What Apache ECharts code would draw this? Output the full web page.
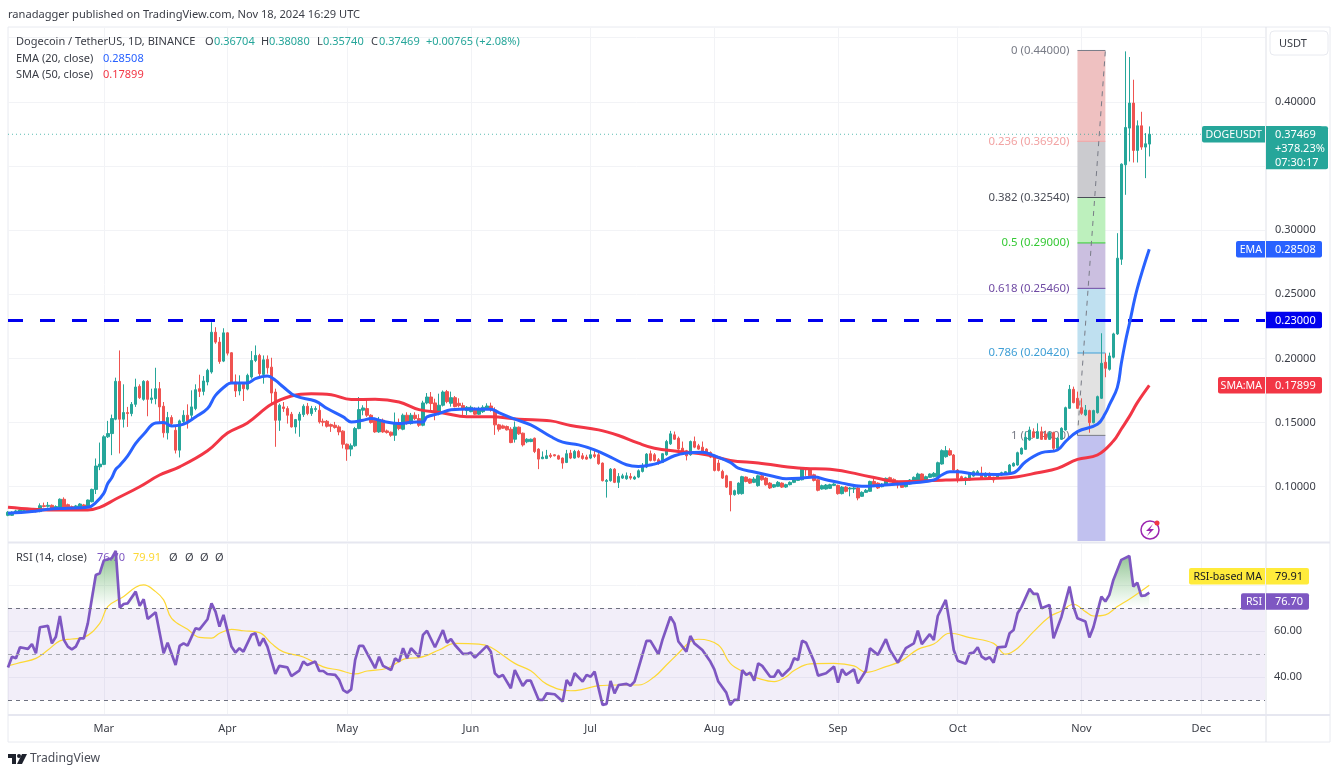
<!DOCTYPE html>
<html>
<head>
<meta charset="utf-8">
<style>
  html, body { margin: 0; padding: 0; background: #fff; }
  #chart { width: 1340px; height: 774px; }
</style>
</head>
<body>
<div id="chart"></div>
<script src="https://cdn.jsdelivr.net/npm/echarts@6/dist/echarts.min.js"></script>
<script>
// daily candles from 6 Feb 2024: open, close, low, high
const ohlc = [
  [.0777,.0801,.0770,.0810],[.0777,.0801,.0772,.0808],[.0793,.0811,.0788,.0820],[.0801,.0819,.0795,.0826],
  [.0804,.0814,.0798,.0822],[.0819,.0806,.0800,.0826],[.0806,.0824,.0802,.0830],[.0819,.0806,.0800,.0828],
  [.0806,.0852,.0801,.0870],[.0852,.0845,.0839,.0876],[.0847,.0855,.0837,.0881],[.0855,.0819,.0815,.0862],
  [.0824,.0845,.0818,.0855],[.0840,.0902,.0832,.0909],[.0902,.0837,.0829,.0917],[.0860,.0824,.0818,.0868],
  [.0845,.0824,.0818,.0853],[.0832,.0850,.0826,.0858],[.0834,.0865,.0830,.0872],[.0858,.0845,.0838,.0866],
  [.0850,.0896,.0845,.0900],[.0883,.0979,.0878,.0985],[.0979,.1161,.0943,.1220],[.1155,.1176,.1129,.1344],
  // March
  [.1174,.1389,.1168,.1401],[.1389,.1414,.1380,.1513],[.1414,.1531,.1246,.1562],[.1526,.1821,.1518,.1850],
  [.1821,.1526,.1259,.2062],[.1526,.1578,.1461,.1798],[.1578,.1570,.1466,.1622],[.1570,.1642,.1549,.1660],
  [.1642,.1777,.1622,.1842],[.1782,.1694,.1684,.1798],[.1681,.1821,.1670,.1830],[.1821,.1681,.1549,.1830],
  [.1679,.1692,.1648,.1764],[.1686,.1764,.1642,.1927],[.1764,.1622,.1505,.1816],[.1627,.1420,.1383,.1660],
  [.1420,.1539,.1368,.1583],[.1539,.1492,.1466,.1557],[.1440,.1285,.1259,.1466],[.1285,.1513,.1228,.1523],
  [.1508,.1557,.1487,.1596],[.1557,.1513,.1453,.1642],[.1557,.1622,.1531,.1751],[.1609,.1756,.1596,.1798],
  [.1764,.1743,.1699,.1873],[.1743,.1824,.1712,.1862],[.1816,.1907,.1790,.1919],[.1894,.2204,.1881,.2282],
  [.2204,.2127,.2114,.2243],[.2127,.1976,.1958,.2166],[.1979,.2199,.1971,.2235],
  // April
  [.2199,.2041,.2023,.2204],[.2044,.1816,.1803,.2049],[.1816,.1746,.1699,.1875],[.1746,.1798,.1712,.1868],
  [.1798,.1764,.1668,.1816],[.1761,.1868,.1751,.1881],[.1855,.1984,.1842,.2057],[.1984,.2023,.1971,.2101],
  [.2023,.1881,.1855,.2036],[.1875,.1989,.1803,.2023],[.1992,.1927,.1881,.2023],[.1932,.1730,.1648,.2005],
  [.1738,.1518,.1311,.1764],[.1518,.1635,.1435,.1648],[.1622,.1609,.1583,.1660],[.1609,.1557,.1492,.1627],
  [.1565,.1466,.1461,.1583],[.1466,.1523,.1414,.1528],[.1518,.1565,.1389,.1583],[.1562,.1627,.1544,.1642],
  [.1627,.1570,.1557,.1653],[.1570,.1609,.1552,.1630],[.1601,.1609,.1583,.1627],[.1596,.1505,.1492,.1642],
  [.1510,.1502,.1471,.1531],[.1510,.1471,.1461,.1520],[.1484,.1471,.1427,.1492],[.1479,.1461,.1453,.1505],
  [.1466,.1427,.1401,.1479],[.1433,.1331,.1298,.1440],
  // May
  [.1331,.1293,.1202,.1337],[.1293,.1319,.1238,.1337],[.1319,.1453,.1311,.1466],[.1453,.1601,.1448,.1699],
  [.1596,.1614,.1557,.1635],[.1609,.1557,.1544,.1686],[.1557,.1500,.1492,.1565],[.1518,.1427,.1420,.1531],
  [.1427,.1523,.1420,.1544],[.1518,.1427,.1420,.1531],[.1435,.1422,.1414,.1445],[.1425,.1401,.1389,.1430],
  [.1401,.1487,.1357,.1578],[.1497,.1453,.1440,.1531],[.1448,.1557,.1440,.1570],[.1557,.1492,.1484,.1580],
  [.1492,.1557,.1484,.1575],[.1557,.1531,.1520,.1580],[.1531,.1479,.1466,.1565],[.1479,.1653,.1471,.1670],
  [.1653,.1699,.1642,.1730],[.1699,.1648,.1590,.1738],[.1653,.1590,.1518,.1686],[.1570,.1635,.1557,.1725],
  [.1635,.1738,.1625,.1750],[.1741,.1663,.1650,.1754],[.1650,.1694,.1624,.1741],[.1694,.1624,.1619,.1707],
  [.1650,.1632,.1619,.1689],[.1632,.1611,.1559,.1655],[.1593,.1619,.1559,.1629],
  // June
  [.1585,.1619,.1580,.1632],[.1603,.1565,.1559,.1619],[.1565,.1603,.1559,.1624],[.1585,.1619,.1575,.1635],
  [.1603,.1629,.1598,.1650],[.1629,.1598,.1585,.1655],[.1598,.1482,.1404,.1619],[.1482,.1448,.1430,.1490],
  [.1474,.1456,.1450,.1484],[.1469,.1443,.1438,.1477],[.1448,.1344,.1339,.1464],[.1370,.1464,.1344,.1508],
  [.1464,.1412,.1404,.1469],[.1417,.1326,.1313,.1422],[.1350,.1370,.1339,.1378],[.1352,.1370,.1347,.1375],
  [.1378,.1274,.1262,.1383],[.1293,.1215,.1137,.1300],[.1218,.1231,.1215,.1275],[.1220,.1241,.1215,.1287],
  [.1246,.1236,.1223,.1262],[.1249,.1241,.1236,.1254],[.1241,.1215,.1210,.1249],[.1223,.1184,.1140,.1228],
  [.1189,.1257,.1184,.1287],[.1262,.1223,.1215,.1287],[.1223,.1275,.1218,.1287],[.1275,.1231,.1223,.1287],
  [.1241,.1220,.1210,.1262],[.1231,.1215,.1210,.1249],
  // July
  [.1223,.1249,.1215,.1287],[.1249,.1236,.1223,.1287],[.1249,.1179,.1171,.1262],[.1184,.1047,.1041,.1189],
  [.1041,.1049,.0915,.1060],[.1047,.1137,.1039,.1145],[.1137,.1034,.1028,.1145],[.1034,.1080,.0990,.1106],
  [.1067,.1085,.1060,.1101],[.1062,.1085,.1054,.1111],[.1080,.1067,.1054,.1106],[.1060,.1075,.1054,.1085],
  [.1075,.1124,.1067,.1135],[.1119,.1153,.1111,.1184],[.1153,.1254,.1145,.1262],[.1257,.1205,.1197,.1282],
  [.1249,.1205,.1197,.1262],[.1210,.1184,.1171,.1223],[.1189,.1257,.1184,.1262],[.1249,.1352,.1241,.1365],
  [.1334,.1412,.1326,.1435],[.1404,.1370,.1365,.1430],[.1378,.1293,.1287,.1391],[.1300,.1267,.1262,.1352],
  [.1280,.1241,.1205,.1287],[.1249,.1352,.1241,.1360],[.1352,.1308,.1300,.1391],[.1319,.1293,.1287,.1334],
  [.1308,.1275,.1267,.1352],[.1293,.1257,.1249,.1300],[.1267,.1231,.1223,.1275],
  // August
  [.1236,.1127,.1119,.1249],[.1184,.1127,.1119,.1210],[.1119,.1067,.1060,.1132],[.1085,.0997,.0990,.1093],
  [.1041,.0938,.0808,.1041],[.0938,.0969,.0930,.0977],[.0946,.1028,.0938,.1034],[.0946,.1078,.0938,.1085],
  [.1075,.1041,.1034,.1080],[.1060,.1028,.1021,.1065],[.1034,.1060,.1028,.1075],[.1008,.1085,.1000,.1093],
  [.1085,.1054,.1047,.1101],[.1067,.1016,.1008,.1075],[.1028,.0990,.0982,.1036],[.0997,.1016,.0990,.1021],
  [.1003,.1034,.0997,.1044],[.1028,.0997,.0990,.1034],[.0997,.1016,.0990,.1023],[.1016,.1034,.1010,.1041],
  [.1034,.1054,.1028,.1060],[.1049,.1067,.1044,.1075],[.1054,.1145,.1049,.1153],[.1145,.1132,.1085,.1153],
  [.1137,.1085,.1080,.1145],[.1093,.1049,.1041,.1101],[.1054,.0972,.0964,.1062],[.0982,.1008,.0977,.1016],
  [.0982,.1013,.0977,.1021],[.0987,.1016,.0982,.1023],[.1010,.1021,.1005,.1028],
  // September
  [.1010,.0946,.0938,.1016],[.0946,.0997,.0940,.1005],[.0997,.0964,.0956,.1005],[.0982,.0990,.0925,.0997],
  [.0982,.0990,.0951,.1003],[.0990,.0912,.0894,.0997],[.0925,.0956,.0920,.0964],[.0956,.0972,.0951,.0982],
  [.0964,.1041,.0960,.1047],[.1041,.1016,.1008,.1060],[.1028,.0990,.0982,.1034],[.1000,.1021,.0995,.1028],
  [.1021,.1065,.1016,.1072],[.1070,.1052,.1044,.1078],[.1057,.1031,.1026,.1065],[.1039,.1013,.0987,.1047],
  [.1026,.0995,.0990,.1031],[.1000,.1026,.0995,.1034],[.1021,.1052,.1016,.1060],[.1047,.1073,.1042,.1080],
  [.1047,.1099,.1042,.1109],[.1099,.1052,.1047,.1104],[.1052,.1078,.1047,.1086],[.1073,.1099,.1068,.1104],
  [.1078,.1104,.1073,.1114],[.1078,.1187,.1073,.1195],[.1177,.1281,.1172,.1291],[.1234,.1281,.1226,.1317],
  [.1281,.1247,.1240,.1299],[.1247,.1130,.1125,.1255],
  // October
  [.1130,.1065,.1031,.1138],[.1078,.1052,.1044,.1086],[.1052,.1070,.1013,.1078],[.1052,.1104,.1047,.1112],
  [.1083,.1117,.1078,.1125],[.1104,.1117,.1099,.1130],[.1104,.1065,.1060,.1156],[.1078,.1104,.1073,.1112],
  [.1104,.1065,.1060,.1112],[.1073,.1052,.1031,.1078],[.1065,.1099,.1060,.1104],[.1091,.1109,.1086,.1117],
  [.1099,.1117,.1094,.1122],[.1099,.1169,.1094,.1177],[.1161,.1182,.1156,.1190],[.1169,.1265,.1164,.1273],
  [.1255,.1299,.1250,.1307],[.1291,.1385,.1286,.1429],[.1364,.1442,.1359,.1468],[.1429,.1385,.1380,.1455],
  [.1377,.1429,.1372,.1494],[.1429,.1369,.1364,.1468],[.1411,.1369,.1364,.1437],[.1369,.1421,.1364,.1432],
  [.1421,.1299,.1273,.1429],[.1299,.1377,.1294,.1385],[.1369,.1455,.1364,.1463],[.1442,.1616,.1437,.1624],
  [.1611,.1759,.1606,.1793],[.1759,.1655,.1650,.1780],[.1689,.1611,.1606,.1741],
  // November
  [.1616,.1572,.1560,.1689],[.1559,.1598,.1550,.1637],[.1593,.1499,.1421,.1600],[.1499,.1593,.1494,.1600],
  [.1577,.1702,.1570,.1710],[.1689,.1962,.1684,.2196],[.1970,.1923,.1853,.2040],[.1915,.2019,.1905,.2045],
  [.2009,.2191,.2000,.2200],[.2191,.2781,.2183,.2976],[.2773,.3514,.2729,.3520],[.3509,.3800,.3275,.4393],
  [.3795,.3990,.3535,.4349],[.3990,.3621,.3527,.4172],[.3621,.3813,.3527,.3855],[.3813,.3647,.3626,.3922],
  [.3647,.3673,.3405,.3756],[.36704,.37469,.3574,.3808]
];

// indicator readings as [days from 1 Mar, value]
const ema20 = [[-24,.0793],[-18,.0806],[-14,.0824],[-9,.0832],[-4,.0839],[-2,.0876],[0,.0948],[1,.1025],[2,.107],[3,.1135],[4,.1166],[6,.1241],[8,.1337],[10,.1409],[13,.1497],[15,.15],[17,.1474],[20,.1487],[23,.1544],[26,.1609],[28,.1712],[31,.1798],[32,.1808],[36,.1808],[38,.1842],[41,.1862],[43,.1829],[45,.1777],[48,.1707],[53,.1668],[56,.1609],[60,.1544],[62,.1505],[65,.1518],[67,.1531],[70,.151],[74,.1492],[77,.1502],[80,.1505],[81,.1544],[84,.157],[87,.16],[92,.1606],[97,.1603],[99,.1578],[103,.1526],[107,.1482],[112,.1391],[115,.1347],[119,.1326],[123,.1287],[127,.1231],[131,.1171],[134,.1158],[138,.1176],[140,.1197],[143,.1241],[146,.1262],[150,.1269],[153,.1241],[157,.1189],[159,.1145],[163,.1114],[168,.108],[171,.1062],[175,.1067],[178,.1075],[181,.1054],[185,.1028],[190,.1003],[195,.1012],[199,.1021],[203,.1031],[208,.1052],[210,.1091],[212,.1117],[214,.1117],[218,.1099],[224,.1096],[228,.1109],[231,.1195],[235,.1265],[239,.1286],[241,.1351],[244,.1429],[249,.1486],[251,.1572],[252,.1637],[254,.1774],[255,.1962],[256,.2128],[257,.2268],[259,.2545],[262,.28508]];
const sma50 = [[-24,.0839],[-18,.0824],[-14,.0819],[-4,.0819],[-1,.0839],[3,.0904],[9,.1],[14,.1091],[19,.1155],[26,.128],[31,.1418],[36,.1497],[42,.1642],[47,.1707],[52,.1725],[57,.1717],[62,.1679],[68,.1681],[74,.166],[79,.1601],[85,.1575],[91,.1546],[97,.1546],[104,.1526],[112,.1513],[117,.1477],[124,.1443],[129,.1399],[134,.1339],[138,.13],[144,.1275],[151,.1249],[157,.1205],[164,.1184],[174,.1145],[183,.1132],[189,.1098],[197,.1045],[199,.1039],[211,.1052],[224,.1065],[229,.1078],[234,.1109],[239,.1143],[244,.1213],[249,.1247],[253,.1356],[255,.145],[257,.1546],[259,.1655],[262,.17899]];
const rsi14 = [[-24,44.1],[-23,48.8],[-22,48.1],[-21,52.9],[-19,52.2],[-18,54.3],[-17,50.3],[-16,61.6],[-14,62.2],[-13,54.6],[-12,57.5],[-11,66.5],[-10,56.1],[-9,53.2],[-8,52],[-7,53.2],[-6,56.8],[-5,56.8],[-4,63.3],[-2,84.3],[-1,85.1],[0,90.6],[2,91.6],[3,94.8],[4,70.1],[5,71.7],[6,72],[8,77.1],[9,70.9],[10,73.8],[11,65.2],[13,68.1],[15,50.3],[16,54.9],[18,45.2],[19,53.5],[20,54.6],[21,53.6],[23,61.2],[24,60.7],[26,65.1],[27,72],[28,68.4],[29,61.9],[30,67],[32,53.2],[33,50.6],[34,52.5],[35,51],[37,58.3],[38,59],[39,53.5],[40,56.8],[41,53.2],[43,41.3],[44,44.8],[46,44.2],[47,40.4],[49,42.8],[50,46.7],[51,45.2],[53,46.7],[54,42.6],[55,42.6],[56,41.3],[58,40.9],[59,38.7],[60,34.3],[61,33.2],[62,34.6],[63,47.4],[64,53.5],[65,53.5],[66,50.3],[68,43.8],[69,48.8],[70,44.8],[72,43],[73,48.1],[74,46.7],[75,52.5],[76,48.1],[77,52.5],[79,48.8],[80,58.3],[81,60.1],[83,52.9],[85,60.4],[86,54.9],[87,56.5],[88,53.9],[90,50],[91,50],[92,50.6],[93,48.4],[96,53.5],[97,51],[98,41.6],[99,39.9],[100,40.9],[102,35.1],[103,43],[105,36.1],[106,38.4],[107,38.4],[109,30],[110,30],[111,32.9],[113,32.5],[115,29.3],[116,38.7],[117,36.2],[118,41.6],[120,38],[121,40.9],[122,40.1],[123,42.3],[125,27.8],[126,28.3],[127,38.3],[128,32.9],[129,36.5],[131,37],[132,36.2],[133,38],[134,43.8],[136,55.7],[137,55.7],[139,49.9],[140,56.1],[142,66.2],[143,63.3],[144,55.4],[146,51],[147,57.8],[148,54.6],[150,51.7],[152,46.7],[153,43.3],[154,38],[156,33.2],[157,27.8],[158,30],[159,30],[160,43],[161,40.9],[162,41.9],[163,38.4],[164,45.9],[165,44.8],[167,40.1],[168,40.1],[169,43],[170,40.4],[172,43.8],[173,48.1],[174,47.4],[175,55.7],[176,54.9],[178,46.7],[179,40.6],[181,41.6],[183,44.5],[184,37.5],[185,43.3],[186,40.9],[188,43.3],[189,37.2],[191,42.8],[192,52.5],[194,49.6],[196,56.4],[197,51.7],[199,46.2],[201,52.5],[203,54.6],[204,60.1],[205,54.3],[207,58.6],[208,56.1],[209,66.5],[211,73.5],[212,63.3],[213,51.7],[214,47.1],[216,45.7],[217,50.3],[218,50.6],[219,52.9],[220,48.8],[221,47.7],[222,48.6],[223,46.2],[224,52.9],[226,53.2],[227,59],[228,60.4],[229,67.7],[230,70.6],[232,78.3],[233,76.1],[234,76.1],[235,69.9],[237,71.3],[238,56.8],[240,66.2],[242,79.3],[243,70.6],[244,65.5],[246,64.1],[247,57.2],[248,61.6],[250,74.9],[251,72.8],[252,75.7],[253,82.2],[255,90.9],[257,92.6],[258,79.3],[259,81],[260,75.2],[261,75.5],[262,76.7]];
const rsiMa = [[-24,44.8],[-21,46.2],[-17,48.1],[-14,51.7],[-11,55.7],[-8,56.5],[-5,57.2],[-1,63.3],[1,70.6],[5,75],[8,79],[10,80],[13,77.1],[15,73.5],[17,65.5],[21,60.7],[24,57.2],[27,56.9],[29,59],[32,60.7],[35,60.1],[39,59.3],[42,54.6],[45,50.9],[50,48.7],[55,44.4],[59,43],[63,41.3],[66,42.6],[71,43.8],[76,48.1],[79,48.4],[84,51.7],[88,54.6],[94,54.3],[97,52.9],[103,45.9],[107,42.7],[111,36.9],[117,34],[120,34.6],[124,36.2],[129,36.5],[134,36.5],[138,40.1],[141,45.2],[144,50.3],[147,55.4],[149,56.4],[154,53.9],[157,45.9],[161,41.6],[164,39.4],[168,38],[171,40.1],[173,42.8],[177,45.7],[183,45.9],[188,44.8],[191,42],[196,44.5],[200,47.1],[204,52],[208,54.3],[212,59],[217,57.1],[223,54.6],[226,49.9],[229,52.5],[233,59.7],[237,66.2],[240,68.7],[243,71.6],[246,68.4],[248,66.5],[251,67],[254,70.6],[257,73.8],[262,79.91]];

const fibRatios = ['0', '0.236', '0.382', '0.5', '0.618', '0.786', '1'];
const fibLevels = [.44, .3692, .3254, .29, .2546, .2042, .14];
const fibColors = ['#787b86', '#f2a3a3', '#4a4d57', '#35c935', '#6f4aa3', '#3f9fd6', '#787b86'];
const fibFills = ['#efc1c1', '#cbcbcf', '#bdf0bd', '#cbbfe0', '#bfe0f0', '#e2e2e2', '#c1c1ef'];
const fibDays = [244, 251];

const priceTicks = [.10, .15, .20, .25, .30, .35, .40, .45];
const priceLabels = [.10, .15, .20, .25, .30, .40];
const rsiTicks = [40, 60, 80];
const rsiLabels = [40, 60];
const rsiLevels = [70, 50, 30];
const supportLevel = .23;
const lastPrice = .37469;

const priceTagNames = ['DOGEUSDT', 'EMA', '', 'SMA:MA'];
const priceTagValues = [.37469, .28508, .23, .17899];
const priceTagColors = ['#26a69a', '#2962ff', '#0000ee', '#f23645'];
const rsiTagNames = ['RSI-based MA', 'RSI'];
const rsiTagValues = [79.91, 76.70];
const rsiTagColors = ['#ffeb3b', '#7e57c2'];

const monthNames = ['Jan','Feb','Mar','Apr','May','Jun','Jul','Aug','Sep','Oct','Nov','Dec'];

// one category per calendar day, 6 Feb to 17 Dec 2024
const dates = [];
for (let t = Date.UTC(2024, 1, 6); t <= Date.UTC(2024, 11, 17); t += 864e5) {
  dates.push(new Date(t).toISOString().slice(0, 10));
}
const dayIndex = d => d + 24;
const toPairs = rows => rows.map(r => [dayIndex(r[0]), r[1]]);
const isMonthStart = (i, v) => v.endsWith('-01');

const FONT = '"Noto Sans", sans-serif';
const PRICE_MIN = 0.05768, PRICE_MAX = 0.45752;
const lastIdx = ohlc.length - 1;

// green fill for the part of the RSI above 70
const rsiOver = rsi14.map((r, i) => {
  const near = [rsi14[i - 1], rsi14[i + 1]].some(n => n && n[1] >= 70);
  if (r[1] >= 70) return [dayIndex(r[0]), r[1]];
  return [dayIndex(r[0]), near ? 70 : '-'];
});

function fibItem(params, api) {
  const i = params.dataIndex;
  const top = api.coord([dayIndex(fibDays[0]), fibLevels[i]]);
  const right = api.coord([dayIndex(fibDays[1]), fibLevels[i]]);
  const next = i + 1 < fibLevels.length ? fibLevels[i + 1] : PRICE_MIN;
  const bottom = api.coord([dayIndex(fibDays[0]), next]);
  return {
    type: 'group',
    children: [
      { type: 'rect', shape: { x: top[0], y: top[1], width: right[0] - top[0], height: bottom[1] - top[1] },
        style: { fill: fibFills[i] } },
      { type: 'line', shape: { x1: top[0], y1: top[1], x2: right[0], y2: top[1] },
        style: { stroke: fibColors[i], lineWidth: 1 } },
      { type: 'text', style: { x: top[0] - 8, y: top[1], text: fibRatios[i] + ' (' + fibLevels[i].toFixed(5) + ')',
        fill: fibColors[i], font: '11.4px ' + FONT, align: 'right', verticalAlign: 'middle' } }
    ]
  };
}

function tagShapes(y, name, nameWidth, valueText, color, textColor, valueRight) {
  const h = 16.5, axisX = 1266, kids = [];
  if (name) {
    kids.push({ type: 'rect', shape: { x: axisX - nameWidth, y: y - h / 2, width: nameWidth - 1, height: h, r: [2, 0, 0, 2] }, style: { fill: color } });
    kids.push({ type: 'text', style: { x: axisX - 4, y: y + .5, text: name, fill: textColor, font: '10.6px ' + FONT, align: 'right', verticalAlign: 'middle' } });
  }
  kids.push({ type: 'rect', shape: { x: axisX, y: y - h / 2, width: valueRight - axisX, height: h, r: [0, 2, 2, 0] }, style: { fill: color } });
  kids.push({ type: 'text', style: { x: axisX + 9, y: y + .5, text: valueText, fill: textColor, font: '11px ' + FONT, verticalAlign: 'middle' } });
  return kids;
}

function priceTagItem(params, api) {
  const i = params.dataIndex;
  const y = api.coord([lastIdx, priceTagValues[i]])[1];
  const widths = [64, 30, 0, 48];
  const kids = tagShapes(y, priceTagNames[i], widths[i], priceTagValues[i].toFixed(5), priceTagColors[i], '#fff', 1322);
  if (i === 0) {
    kids.push({ type: 'rect', shape: { x: 1266, y: y - 8, width: 62, height: 43, r: [0, 2, 2, 0] }, style: { fill: priceTagColors[0] } });
    ['0.37469', '+378.23%', '07:30:17'].forEach((s, k) => {
      kids.push({ type: 'text', style: { x: 1275, y: y + .5 + k * 14, text: s, fill: '#fff', font: '11px ' + FONT, verticalAlign: 'middle' } });
    });
  }
  return { type: 'group', children: kids };
}

function rsiTagItem(params, api) {
  const i = params.dataIndex;
  const y = api.coord([lastIdx, rsiTagValues[i]])[1] + (i === 0 ? -9 : 9);
  const widths = [77, 25];
  return { type: 'group', children: tagShapes(y, rsiTagNames[i], widths[i], rsiTagValues[i].toFixed(2), rsiTagColors[i], i === 0 ? '#131722' : '#fff', 1309) };
}

function txt(x, y, text, fill, size) {
  return { type: 'text', x: x, y: y + 1, silent: true, z: 20,
    style: { text: text, fill: fill || '#3a3d46', font: (size || 11) + 'px ' + FONT, verticalAlign: 'middle' } };
}

const UP = '#26a69a', DOWN = '#ef5350', GRID = '#f2f3f6';

const chart = echarts.init(document.getElementById('chart'), null, { renderer: 'canvas' });
chart.setOption({
  animation: false,
  backgroundColor: '#fff',
  grid: [
    { left: 8, right: 75, top: 28, height: 513 },
    { left: 8, right: 75, top: 544, height: 170 }
  ],
  xAxis: [0, 1].map(g => ({
    type: 'category', gridIndex: g, data: dates, boundaryGap: false,
    axisLine: { show: false }, axisTick: { show: false },
    splitLine: { show: true, interval: isMonthStart, lineStyle: { color: GRID, width: 1 } },
    axisLabel: g === 0 ? { show: false } : {
      show: true, interval: isMonthStart, margin: 9, color: '#3a3d46', fontSize: 11, fontFamily: FONT,
      formatter: v => monthNames[+v.slice(5, 7) - 1]
    }
  })),
  yAxis: [
    { type: 'value', gridIndex: 0, position: 'right', min: PRICE_MIN, max: PRICE_MAX, scale: true,
      axisLine: { show: false },
      axisTick: { show: false, customValues: priceTicks },
      splitLine: { show: true, lineStyle: { color: GRID, width: 1 } },
      axisLabel: { customValues: priceLabels, margin: 10, color: '#3a3d46', fontSize: 11, fontFamily: FONT, formatter: v => v.toFixed(5) } },
    { type: 'value', gridIndex: 1, position: 'right', min: 23.9, max: 97.8, scale: true,
      axisLine: { show: false },
      axisTick: { show: false, customValues: rsiTicks },
      splitLine: { show: true, lineStyle: { color: GRID, width: 1 } },
      axisLabel: { customValues: rsiLabels, margin: 9, color: '#3a3d46', fontSize: 11, fontFamily: FONT, formatter: v => v.toFixed(2) } }
  ],
  series: [
    { name: 'fib', type: 'custom', xAxisIndex: 0, yAxisIndex: 0, z: 1, silent: true,
      data: fibLevels.map(v => [dayIndex(fibDays[0]), v]), encode: { x: 0, y: 1 }, renderItem: fibItem },
    { name: 'fib trend', type: 'line', xAxisIndex: 0, yAxisIndex: 0, z: 2, symbol: 'none', silent: true,
      data: [[dayIndex(fibDays[0]), fibLevels[6]], [dayIndex(fibDays[1]), fibLevels[0]]],
      lineStyle: { color: '#787b86', width: 1, type: [5, 5] } },
    { name: 'last price', type: 'line', xAxisIndex: 0, yAxisIndex: 0, z: 2, symbol: 'none', silent: true,
      data: [[0, lastPrice], [dates.length - 1, lastPrice]],
      lineStyle: { color: UP, width: 1, type: [1, 3], opacity: .75 } },
    { name: 'DOGEUSDT', type: 'candlestick', xAxisIndex: 0, yAxisIndex: 0, z: 3, barWidth: 3, silent: true,
      data: ohlc,
      itemStyle: { color: UP, color0: DOWN, borderColor: UP, borderColor0: DOWN, borderWidth: 1 },
      markLine: { symbol: 'none', silent: true, label: { show: false }, animation: false,
        data: [{ yAxis: supportLevel, lineStyle: { color: '#0000ee', width: 3, type: [15, 17] } }] } },
    { name: 'SMA 50', type: 'line', xAxisIndex: 0, yAxisIndex: 0, z: 4, symbol: 'none', smooth: .4, silent: true,
      data: toPairs(sma50), lineStyle: { color: '#f23645', width: 3 } },
    { name: 'EMA 20', type: 'line', xAxisIndex: 0, yAxisIndex: 0, z: 5, symbol: 'none', smooth: .4, silent: true,
      data: toPairs(ema20), lineStyle: { color: '#2962ff', width: 3 } },
    { name: 'price tags', type: 'custom', xAxisIndex: 0, yAxisIndex: 0, z: 10, silent: true,
      data: priceTagValues.map(v => [lastIdx, v]), encode: { x: 0, y: 1 }, renderItem: priceTagItem },

    { name: 'RSI over', type: 'line', xAxisIndex: 1, yAxisIndex: 1, z: 2, symbol: 'none', silent: true,
      data: rsiOver, lineStyle: { width: 0 },
      areaStyle: { origin: 70, color: new echarts.graphic.LinearGradient(0, 0, 0, 1, [
        { offset: 0, color: 'rgba(56,142,60,.85)' }, { offset: 1, color: 'rgba(76,175,80,0)' }]) } },
    { name: 'RSI MA', type: 'line', xAxisIndex: 1, yAxisIndex: 1, z: 3, symbol: 'none', smooth: .4, silent: true,
      data: toPairs(rsiMa), lineStyle: { color: '#fdd835', width: 1.2 } },
    { name: 'RSI', type: 'line', xAxisIndex: 1, yAxisIndex: 1, z: 4, symbol: 'none', silent: true,
      data: toPairs(rsi14), lineStyle: { color: '#7e57c2', width: 2.7 },
      markArea: { silent: true, itemStyle: { color: 'rgba(126,87,194,.1)' },
        data: [[{ yAxis: rsiLevels[2] }, { yAxis: rsiLevels[0] }]] },
      markLine: { symbol: 'none', silent: true, label: { show: false },
        data: rsiLevels.map((v, i) => ({ yAxis: v,
          lineStyle: { color: i === 1 ? '#a5a7ae' : '#6f7280', width: 1, type: [4, 4] } })) } },
    { name: 'rsi tags', type: 'custom', xAxisIndex: 1, yAxisIndex: 1, z: 10, silent: true,
      data: rsiTagValues.map(v => [lastIdx, v]), encode: { x: 0, y: 1 }, renderItem: rsiTagItem }
  ],
  graphic: [
    // frame and pane separators
    { type: 'rect', silent: true, z: 0, shape: { x: 8, y: 27, width: 1322, height: 715 }, style: { fill: 'none', stroke: '#e8eaf0', lineWidth: 1 } },
    { type: 'line', silent: true, z: 9, shape: { x1: 1266, y1: 27, x2: 1266, y2: 742 }, style: { stroke: '#dfe1e8', lineWidth: 1 } },
    { type: 'line', silent: true, z: 9, shape: { x1: 8, y1: 542.5, x2: 1330, y2: 542.5 }, style: { stroke: '#e6e7f0', lineWidth: 2 } },
    { type: 'line', silent: true, z: 9, shape: { x1: 8, y1: 715, x2: 1330, y2: 715 }, style: { stroke: '#e6e7f0', lineWidth: 2 } },
    { type: 'rect', silent: true, z: 9, shape: { x: 1270, y: 31, width: 58, height: 24, r: 4 }, style: { fill: '#fff', stroke: '#e8eaf0', lineWidth: 1 } },
    txt(1279, 43, 'USDT', '#3a3d46'),

    // header and legend
    txt(8, 14, 'ranadagger published on TradingView.com, Nov 18, 2024 16:29 UTC', '#3a3d46', 11.1),
    txt(16, 41, 'Dogecoin / TetherUS, 1D, BINANCE', '#3a3d46'),
    txt(205, 41, 'O'), txt(214, 41, '0.36704', UP),
    txt(261, 41, 'H'), txt(269, 41, '0.38080', UP),
    txt(317, 41, 'L'), txt(323, 41, '0.35740', UP),
    txt(371, 41, 'C'), txt(379, 41, '0.37469', UP),
    txt(426, 41, '+0.00765 (+2.08%)', UP),
    txt(16, 58, 'EMA (20, close)'), txt(103, 58, '0.28508', '#2962ff'),
    txt(16, 74, 'SMA (50, close)'), txt(103, 74, '0.17899', '#f23645'),
    txt(16, 557, 'RSI (14, close)'), txt(97, 557, '76.70', '#7e57c2'), txt(133, 557, '79.91', '#fdd835'),
    txt(169, 557, 'Ø'), txt(185, 557, 'Ø'), txt(200, 557, 'Ø'), txt(215, 557, 'Ø'),

    // lightning badge
    { type: 'circle', silent: true, z: 9, shape: { cx: 1150, cy: 530, r: 9 }, style: { fill: 'none', stroke: '#9c27b0', lineWidth: 1.5 } },
    { type: 'polygon', silent: true, z: 9, shape: { points: [[1153, 524], [1146, 531], [1150, 531], [1147, 536], [1154, 529], [1150, 529]] }, style: { fill: '#9c27b0' } },
    { type: 'circle', silent: true, z: 9, shape: { cx: 1157, cy: 523, r: 2.5 }, style: { fill: '#f23645' } },

    // logo
    { type: 'polygon', silent: true, shape: { points: [[8, 754], [16, 754], [16, 764], [12, 764], [12, 758], [8, 758]] }, style: { fill: '#1e222d' } },
    { type: 'circle', silent: true, shape: { cx: 19, cy: 756, r: 2 }, style: { fill: '#1e222d' } },
    { type: 'polygon', silent: true, shape: { points: [[22, 754], [27, 754], [22, 764], [17, 764]] }, style: { fill: '#1e222d' } },
    txt(30, 758, 'TradingView', '#4a4d57', 12.2)
  ]
});
</script>
</body>
</html>
